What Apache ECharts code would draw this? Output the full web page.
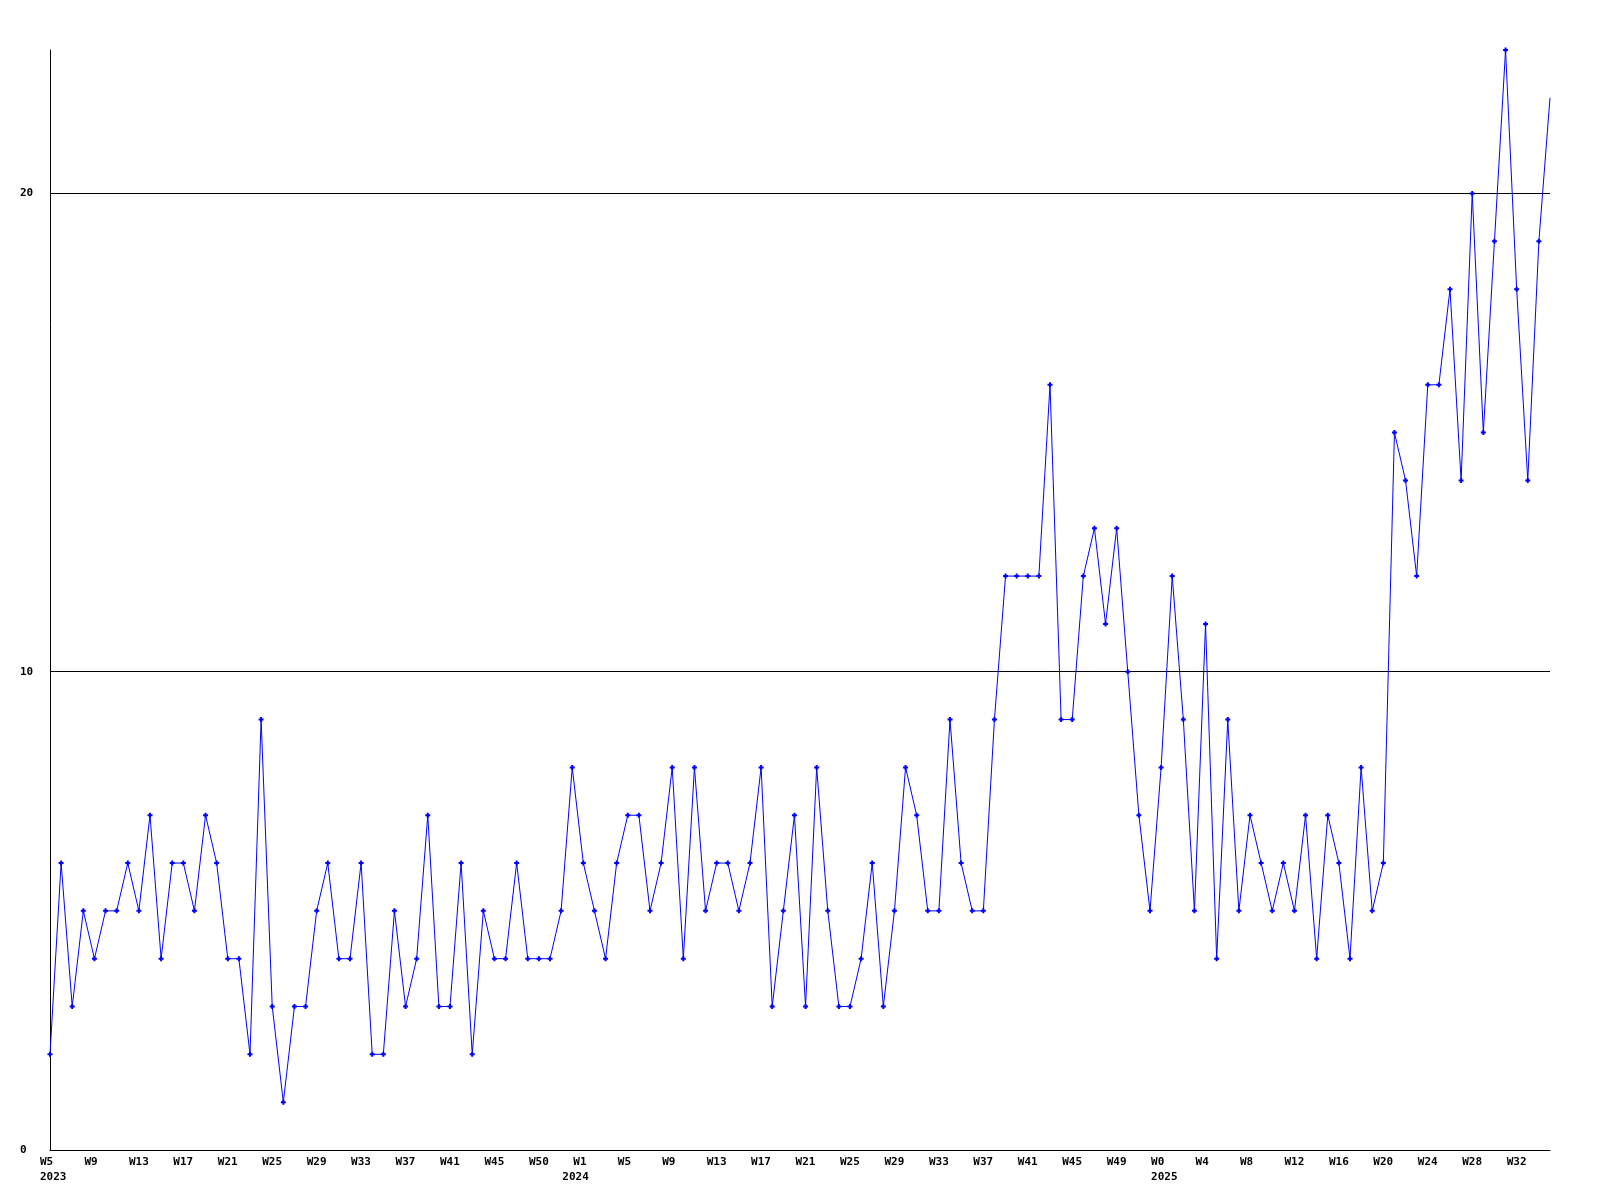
<!DOCTYPE html>
<html>
<head>
<meta charset="utf-8">
<script src="https://cdn.jsdelivr.net/npm/echarts@6/dist/echarts.min.js"></script>
<style>
html,body{margin:0;padding:0;background:#fff;}
#chart{width:1600px;height:1200px;}
</style>
</head>
<body>
<div id="chart"></div>
<script>
// Weekly categories (one per data point)
const categories = [
'2023-W05','2023-W06','2023-W07','2023-W08','2023-W09','2023-W10','2023-W11','2023-W12','2023-W13','2023-W14',
'2023-W15','2023-W16','2023-W17','2023-W18','2023-W19','2023-W20','2023-W21','2023-W22','2023-W23','2023-W24',
'2023-W25','2023-W26','2023-W27','2023-W28','2023-W29','2023-W30','2023-W31','2023-W32','2023-W33','2023-W34',
'2023-W35','2023-W36','2023-W37','2023-W38','2023-W39','2023-W40','2023-W41','2023-W42','2023-W43','2023-W44',
'2023-W45','2023-W46','2023-W47','2023-W48','2023-W49','2023-W50','2023-W51','2023-W52',
'2024-W01','2024-W02','2024-W03','2024-W04','2024-W05','2024-W06','2024-W07','2024-W08','2024-W09','2024-W10',
'2024-W11','2024-W12','2024-W13','2024-W14','2024-W15','2024-W16','2024-W17','2024-W18','2024-W19','2024-W20',
'2024-W21','2024-W22','2024-W23','2024-W24','2024-W25','2024-W26','2024-W27','2024-W28','2024-W29','2024-W30',
'2024-W31','2024-W32','2024-W33','2024-W34','2024-W35','2024-W36','2024-W37','2024-W38','2024-W39','2024-W40',
'2024-W41','2024-W42','2024-W43','2024-W44','2024-W45','2024-W46','2024-W47','2024-W48','2024-W49','2024-W50',
'2024-W51','2024-W52',
'2025-W00','2025-W01','2025-W02','2025-W03','2025-W04','2025-W05','2025-W06','2025-W07','2025-W08','2025-W09',
'2025-W10','2025-W11','2025-W12','2025-W13','2025-W14','2025-W15','2025-W16','2025-W17','2025-W18','2025-W19',
'2025-W20','2025-W21','2025-W22','2025-W23','2025-W24','2025-W25','2025-W26','2025-W27','2025-W28','2025-W29',
'2025-W30','2025-W31','2025-W32','2025-W33','2025-W34','2025-W35'
];

// Series values
const values = [
2,6,3,5,4,5,5,6,5,7,
4,6,6,5,7,6,4,4,2,9,
3,1,3,3,5,6,4,4,6,2,
2,5,3,4,7,3,3,6,2,5,
4,4,6,4,4,4,5,8,6,5,
4,6,7,7,5,6,8,4,8,5,
6,6,5,6,8,3,5,7,3,8,
5,3,3,4,6,3,5,8,7,5,
5,9,6,5,5,9,12,12,12,12,
16,9,9,12,13,11,13,10,7,5,
8,12,9,5,11,4,9,5,7,6,
5,6,5,7,4,7,6,4,8,5,
6,15,14,12,16,16,18,14,20,15,
19,23,18,14,19,22
];

// X tick labels, one every 4 categories
const tickLabels = [
'W5','W9','W13','W17','W21','W25','W29','W33','W37','W41','W45','W50',
'W1','W5','W9','W13','W17','W21','W25','W29','W33','W37','W41','W45','W49',
'W0','W4','W8','W12','W16','W20','W24','W28','W32'
];
const tickYears = {0: '2023', 12: '2024', 25: '2025'};

// Y axis
const yMin = 0, yMax = 23, yInterval = 10;

const FONT = 'DejaVu Sans Mono';
const tokenBase = {fontFamily: FONT, fontWeight: 'bold', fontSize: 11, lineHeight: 15, color: '#000'};
const chart = echarts.init(document.getElementById('chart'), null, {renderer: 'canvas'});
chart.setOption({
  animation: false,
  backgroundColor: '#ffffff',
  grid: {left: 50, right: 50, top: 50, bottom: 50, containLabel: false},
  xAxis: {
    type: 'category',
    data: categories,
    boundaryGap: false,
    axisLine: {show: true, lineStyle: {color: '#000', width: 1}},
    axisTick: {show: false},
    splitLine: {show: false},
    axisLabel: {
      interval: function (i) { return i % 4 === 0; },
      formatter: function (v, i) {
        if (i % 4 !== 0) return '';
        const k = i / 4;
        const t = '{w|' + (tickLabels[k] || '') + '}';
        if (!tickYears[k]) return t;
        const style = tickYears[k] === '2024' ? 'ys' : 'y';
        return t + '\n{' + style + '|' + tickYears[k] + '}';
      },
      align: 'left',
      verticalAlign: 'top',
      padding: [0, 0, 0, -21],
      margin: 5,
      color: '#000',
      fontFamily: FONT,
      fontWeight: 'bold',
      fontSize: 11,
      lineHeight: 15,
      rich: {
        w: Object.assign({padding: [0, 0, 0, 11]}, tokenBase),
        y: Object.assign({padding: [0, 0, 0, 11]}, tokenBase),
        ys: Object.assign({padding: [0, 0, 0, 0]}, tokenBase)
      }
    }
  },
  yAxis: {
    type: 'value',
    min: yMin,
    max: yMax,
    interval: yInterval,
    axisLine: {show: true, lineStyle: {color: '#000', width: 1}},
    axisTick: {show: false},
    splitLine: {show: true, lineStyle: {color: ['#000', '#000', '#000', 'rgba(0,0,0,0)'], width: 1}},
    axisLabel: {
      formatter: function (v) { return v % 10 === 0 ? String(v) : ''; },
      align: 'left',
      margin: 30,
      color: '#000',
      fontFamily: FONT,
      fontWeight: 'bold',
      fontSize: 11
    }
  },
  series: [{
    type: 'line',
    data: values,
    showAllSymbol: true,
    symbol: 'path://M1.5,0H3.5V1.5H5V3.5H3.5V5H1.5V3.5H0V1.5H1.5Z',
    symbolSize: function (v, p) { return p.dataIndex === values.length - 1 ? 0 : 5; },
    itemStyle: {color: '#0000ff'},
    lineStyle: {color: '#0000ff', width: 1},
    emphasis: {disabled: true}
  }]
});
</script>
</body>
</html>
